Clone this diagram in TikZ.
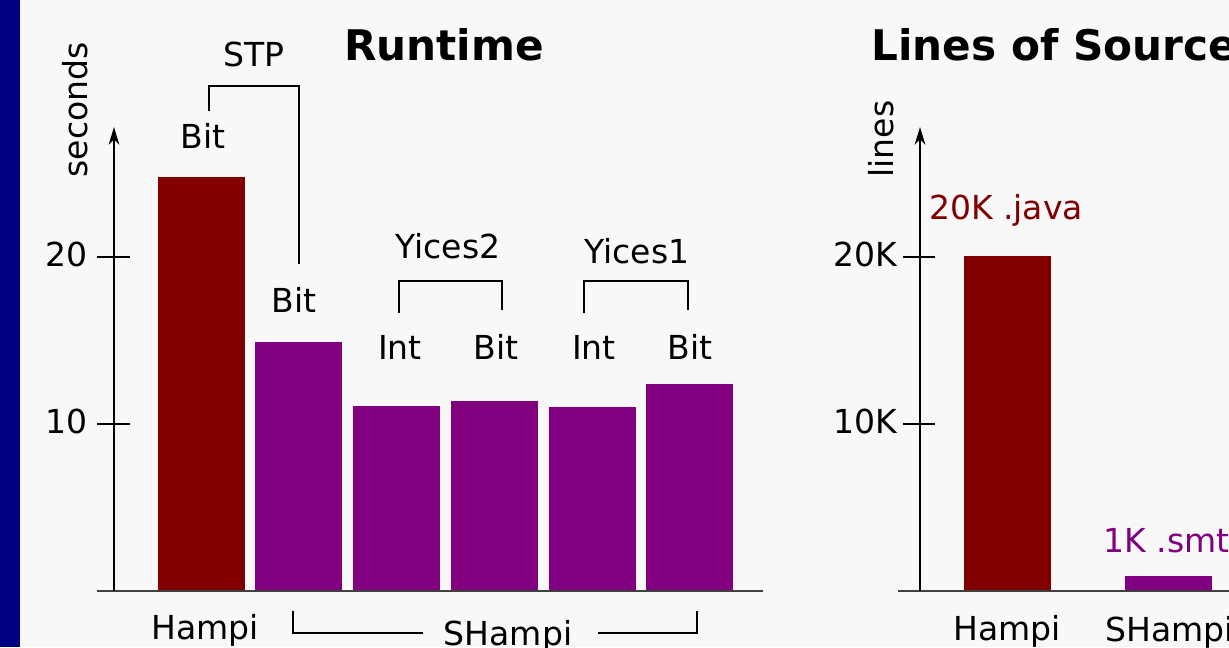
\documentclass[tikz,border=0pt]{standalone}
\usepackage{fontspec}
\setmainfont{DejaVu Sans}
\usetikzlibrary{positioning,arrows.meta}
\tikzset{>=Stealth}
\definecolor{hampicol}{RGB}{128,0,0}
\definecolor{shampicol}{RGB}{128,0,128}
\definecolor{stripcol}{RGB}{0,0,128}
\definecolor{bgcol}{RGB}{248,248,248}
\tikzset{
  lbl/.style={anchor=base, inner sep=0pt, font=\fontsize{18.8}{22}\selectfont},
  ttl/.style={anchor=base, inner sep=0pt, font=\fontsize{24}{28}\selectfont\bfseries},
  axisline/.style={line width=1.2pt, -{Stealth[length=10pt,width=6pt,inset=3pt]}},
  groundline/.style={line width=1.5pt, black!75},
  bracket/.style={line width=1.2pt},
}

\begin{document}
\begin{tikzpicture}[x=0.02cm, y=-0.02cm]
    % Background and side strip
    \useasboundingbox (0,0) rectangle (1229,647);
    \fill[bgcol] (0,0) rectangle (1229,647);
    \fill[stripcol] (0,0) rectangle (20,647);

    % Runtime chart
    \node[ttl] (rtitle) at (444,60) {Runtime};
    \node[lbl, rotate=90] (rylabel) at (87,110) {seconds};

    \foreach \xa/\ytop/\col in {158/177/hampicol, 255/342/shampicol, 353/406/shampicol,
                                451/401/shampicol, 549/407/shampicol, 646/384/shampicol} {
        \fill[\col] (\xa,591) rectangle (\xa+87,\ytop);
    }

    \draw[groundline] (97,591) -- (763,591);
    \draw[axisline] (114,591) -- (114,127);
    \foreach \ty/\tv in {257/20, 424/10} {
        \draw[bracket] (97,\ty) -- (130,\ty);
        \node[lbl, anchor=base east] (rtick\tv) at (88,\ty+9) {\tv};
    }

    % Solver labels
    \node[lbl] (hbit) at (203,148) {Bit};
    \node[lbl] (stpbit) at (294,312) {Bit};
    \node[lbl] (ytwoint) at (400,359) {Int};
    \node[lbl] (ytwobit) at (496,359) {Bit};
    \node[lbl] (yoneint) at (594,359) {Int};
    \node[lbl] (yonebit) at (690,359) {Bit};

    \node[lbl] (stp) at (254,66) {STP};
    \draw[bracket] (209,111) -- (209,86) -- (299,86) -- (299,264);
    \node[lbl] (ytwo) at (448,258) {Yices2};
    \draw[bracket] (399,313) -- (399,281) -- (502,281) -- (502,310);
    \node[lbl] (yone) at (637,263) {Yices1};
    \draw[bracket] (584,313) -- (584,281) -- (688,281) -- (688,310);

    % Tool names
    \node[lbl] (rhampi) at (205,639) {Hampi};
    \node[lbl] (rshampi) at (508,645) {SHampi};
    \draw[bracket] (293,611) -- (293,633) -- (423,633);
    \draw[bracket] (598,633) -- (697,633) -- (697,611);

    % Lines of source chart
    \node[ttl, anchor=base west] (ltitle) at (871,60) {Lines of Source};
    \node[lbl, rotate=90] (lylabel) at (893,139) {lines};

    \fill[hampicol] (964,591) rectangle (1051,256);
    \fill[shampicol] (1125,591) rectangle (1212,576);

    \draw[groundline] (898,591) -- (1240,591);
    \draw[axisline] (920,591) -- (920,127);
    \foreach \ty/\tv in {257/20K, 424/10K} {
        \draw[bracket] (903,\ty) -- (935,\ty);
        \node[lbl, anchor=base east] (ltick\tv) at (898,\ty+9) {\tv};
    }

    \node[lbl, hampicol] (java) at (1006,219) {20K .java};
    \node[lbl, shampicol, anchor=base west] (smt) at (1103,552) {1K .smtn};

    \node[lbl] (lhampi) at (1007,640) {Hampi};
    \node[lbl, anchor=base west] (lshampi) at (1105,641) {SHampi};
\end{tikzpicture}
\end{document}
